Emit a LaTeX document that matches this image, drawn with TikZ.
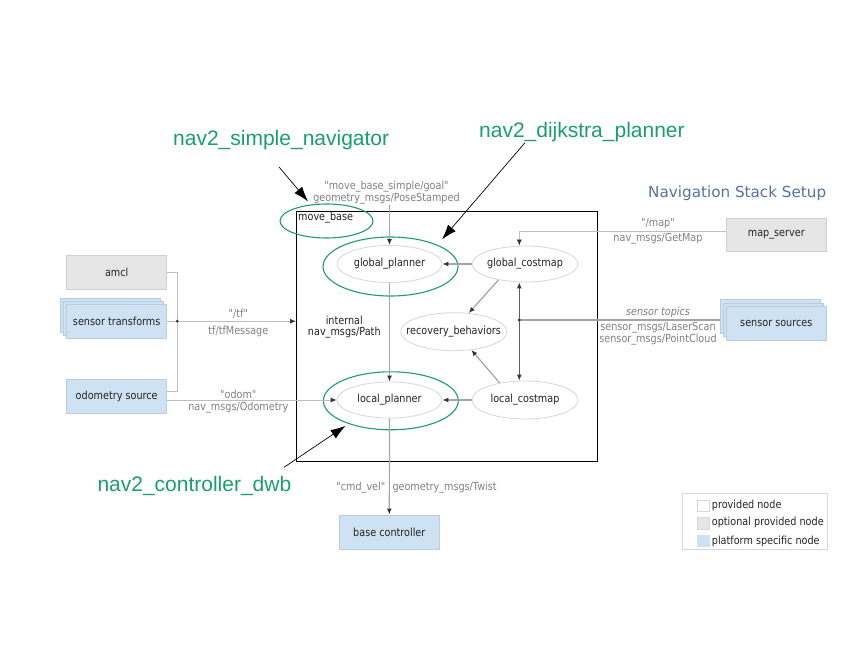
\documentclass[tikz,border=0pt]{standalone}
\usepackage{fontspec}
\setmainfont{DejaVu Sans}
\newfontfamily\condfont{DejaVu Sans}[FakeStretch=0.87]
\newfontfamily\arialfont{Liberation Sans}
\usetikzlibrary{shapes.geometric,arrows.meta,calc}
\definecolor{gtxt}{RGB}{128,128,128}
\definecolor{ntxt}{RGB}{35,35,35}
\definecolor{ell}{RGB}{215,215,215}
\definecolor{edge}{RGB}{165,165,165}
\definecolor{ledge}{RGB}{190,190,190}
\definecolor{ahead}{RGB}{55,55,55}
\definecolor{grayfill}{RGB}{230,230,230}
\definecolor{grayline}{RGB}{208,208,208}
\definecolor{bluefill}{RGB}{207,226,243}
\definecolor{blueline}{RGB}{185,205,225}
\definecolor{navgreen}{RGB}{25,160,105}
\definecolor{titleblue}{RGB}{85,115,160}
\definecolor{legline}{RGB}{215,215,215}
\newcommand\ztext[1]{\makebox[0pt][c]{#1}}
\tikzset{
  ntext/.style={text=ntxt, font=\condfont\fontsize{11.1}{12}\selectfont},
  glab/.style={text=gtxt, font=\condfont\fontsize{11.1}{11}\selectfont, inner sep=0pt},
  enode/.style={ellipse, draw=ell, line width=0.8pt, ntext, inner sep=0pt},
  greenell/.style={ellipse, draw=navgreen, line width=1.1pt, inner sep=0pt},
  graybox/.style={rectangle, draw=grayline, fill=grayfill, line width=0.8pt, minimum width=100pt, minimum height=34pt, ntext, inner sep=0pt},
  bluebox/.style={rectangle, draw=blueline, fill=bluefill, line width=0.8pt, minimum width=100pt, minimum height=34pt, ntext, inner sep=0pt},
  tip/.tip={Latex[length=6pt,width=5pt,color=ahead]},
  thickarrow/.style={draw=edge, line width=1.8pt, -tip},
  medarrow/.style={draw=edge, line width=1.2pt, -tip},
  thinedge/.style={draw=ledge, line width=0.8pt},
  thinarrow/.style={draw=ledge, line width=0.8pt, -tip},
  darkarrow/.style={draw=ahead!80, line width=1.1pt, tip-tip},
  annot/.style={draw=black, line width=0.7pt, -{Latex[length=15pt,width=10pt]}},
  greentext/.style={anchor=base west, inner sep=0pt, text=navgreen, font=\arialfont\fontsize{21}{24}\selectfont},
  swatch/.style={rectangle, draw=legline, line width=0.5pt, minimum width=11.7pt, minimum height=11.7pt, inner sep=0pt}
}
\begin{document}
\begin{tikzpicture}[x=1pt,y=-1pt]
\useasboundingbox[fill=white] (0,0) rectangle (864,668);

% move_base box
\node[draw=black, line width=0.9pt, minimum width=301pt, minimum height=250pt, inner sep=0pt, anchor=north west] (mb) at (296,211) {};
\node[ntext, anchor=west, inner sep=0pt] (mbl) at (298,218) {move\_base};

% internal nodes
\node[enode, minimum width=105pt, minimum height=37pt] (gp) at (389.5,264) {\ztext{global\_planner}};
\node[enode, minimum width=106pt, minimum height=36pt] (gc) at (525,264) {\ztext{global\_costmap}};
\node[enode, minimum width=106pt, minimum height=38pt] (rb) at (453.7,331.7) {\ztext{recovery\_behaviors}};
\node[enode, minimum width=105pt, minimum height=36pt] (lp) at (389.5,400) {\ztext{local\_planner}};
\node[enode, minimum width=106pt, minimum height=38pt] (lc) at (525,400) {\ztext{local\_costmap}};

% green highlight ellipses
\node[greenell, minimum width=135pt, minimum height=59pt] (gpg) at (390.5,266.5) {};
\node[greenell, minimum width=135pt, minimum height=58pt] (lpg) at (390.8,400.8) {};
\node[greenell, minimum width=93pt, minimum height=34pt] (mbg) at (326.5,221) {};

% outside boxes
\node[graybox] (am) at (116.7,272.2) {amcl};
\node[bluebox] (st3) at (110.7,315.2) {};
\node[bluebox] (st2) at (113.7,318.2) {};
\node[bluebox] (st) at (116.7,321.2) {sensor transforms};
\node[bluebox] (od) at (116.7,396.3) {odometry source};
\node[graybox, minimum width=100.7pt, minimum height=33.7pt] (ms) at (776.3,234.8) {map\_server};
\node[bluebox, minimum width=100.7pt, minimum height=33.3pt] (ss3) at (770.3,316.3) {};
\node[bluebox, minimum width=100.7pt, minimum height=33.3pt] (ss2) at (773.3,319.8) {};
\node[bluebox, minimum width=100.7pt, minimum height=33.3pt] (ss) at (776.3,323.3) {sensor sources};
\node[bluebox] (bc) at (389.3,532) {base controller};

% junctions
\coordinate (junc) at (177.3,321.2);
\coordinate (sdot) at (519.3,320);

% left connectors
\draw[thinedge] (am.east) -| (junc);
\draw[thinedge] ([yshift=5pt]od.east) -| (junc);
\draw[thinedge] (st.east) -- (junc);
\draw[thinarrow] (junc) -- (junc -| mb.west);
\fill[ahead] (junc) circle (1.6);
\draw[thinarrow] ([yshift=-3.7pt]od.east) -- (lp.west);

\node[glab] (tfa) at (238.3,314) {"/tf"};
\node[glab] (tfb) at (238.3,331.7) {tf/tfMessage};
\node[glab] (oda) at (238.3,394) {"odom"};
\node[glab] (odb) at (238.3,407.7) {nav\_msgs/Odometry};

% goal
\node[glab, align=center] (goal) at (386.5,192.8) {"move\_base\_simple/goal"\\geometry\_msgs/PoseStamped};
\draw[medarrow] (goal.south -| gp.north) -- (gp.north);

\node[ntext, align=center, inner sep=0pt, font=\condfont\fontsize{11.1}{11.7}\selectfont] (int) at (344.3,327) {internal\\nav\_msgs/Path};

% internal edges
\draw[thickarrow] (gc.west) -- (gp.east);
\draw[thickarrow] (lc.west) -- (lp.east);
\draw[medarrow] (gp.south) -- (lp.north);
\draw[medarrow] (lp.south) -- (bc.north);
\draw[medarrow] (gc.211) -- (rb.51);
\draw[medarrow] (lc.146) -- (rb.314);
\draw[darkarrow] (sdot |- gc.south) -- (sdot |- lc.north);
\draw[draw=edge, line width=1.6pt] (ss3.west |- sdot) -- (sdot);
\fill[ahead] (sdot) circle (1.6);
\draw[thinarrow] ([yshift=3.8pt]ms.west) -| (gc.north -| sdot);

\node[glab] (mapa) at (658,224) {"/map"};
\node[glab] (mapb) at (658,239) {nav\_msgs/GetMap};
\node[glab, font=\condfont\itshape\fontsize{11.1}{11}\selectfont] (sta) at (658,312.7) {sensor topics};
\node[glab] (stb) at (658,327.7) {sensor\_msgs/LaserScan};
\node[glab] (stc) at (658,340) {sensor\_msgs/PointCloud};

\node[glab, anchor=east] (cva) at (385.5,487.3) {"cmd\_vel"};
\node[glab, anchor=west] (cvb) at (392.3,487.3) {geometry\_msgs/Twist};

% title
\node[anchor=base west, inner sep=0pt, text=titleblue, font=\fontsize{15.2}{18}\selectfont] (title) at (648,197.3) {Navigation Stack Setup};

% green annotations
\node[greentext] (n1) at (173,145.3) {nav2\_simple\_navigator};
\node[greentext] (n2) at (479,137.3) {nav2\_dijkstra\_planner};
\node[greentext] (n3) at (97.3,491.7) {nav2\_controller\_dwb};
\coordinate (s1) at (279,167);
\coordinate (s2) at (525,142.7);
\coordinate (s3) at (284,467.3);
\draw[annot] (s1) -- ([shift={(-3,-3)}]mbg.133);
\draw[annot] (s2) -- ([shift={(-1,-8)}]gpg.20);
\draw[annot] (s3) -- ([shift={(0,3)}]lpg.206);

% legend
\node[draw=legline, line width=0.8pt, minimum width=144.4pt, minimum height=56pt, inner sep=0pt, anchor=north west] (leg) at (682.3,493.3) {};
\node[swatch, fill=white] (sw1) at (703.2,505.8) {};
\node[swatch, fill=grayfill] (sw2) at (703.2,523.5) {};
\node[swatch, fill=bluefill, draw=bluefill] (sw3) at (703.2,540.8) {};
\node[ntext, anchor=west, inner sep=0pt] (l1) at (711.7,505) {provided node};
\node[ntext, anchor=west, inner sep=0pt] (l2) at (711.7,522.7) {optional provided node};
\node[ntext, anchor=west, inner sep=0pt] (l3) at (711.7,541) {platform specific node};
\end{tikzpicture}
\end{document}
